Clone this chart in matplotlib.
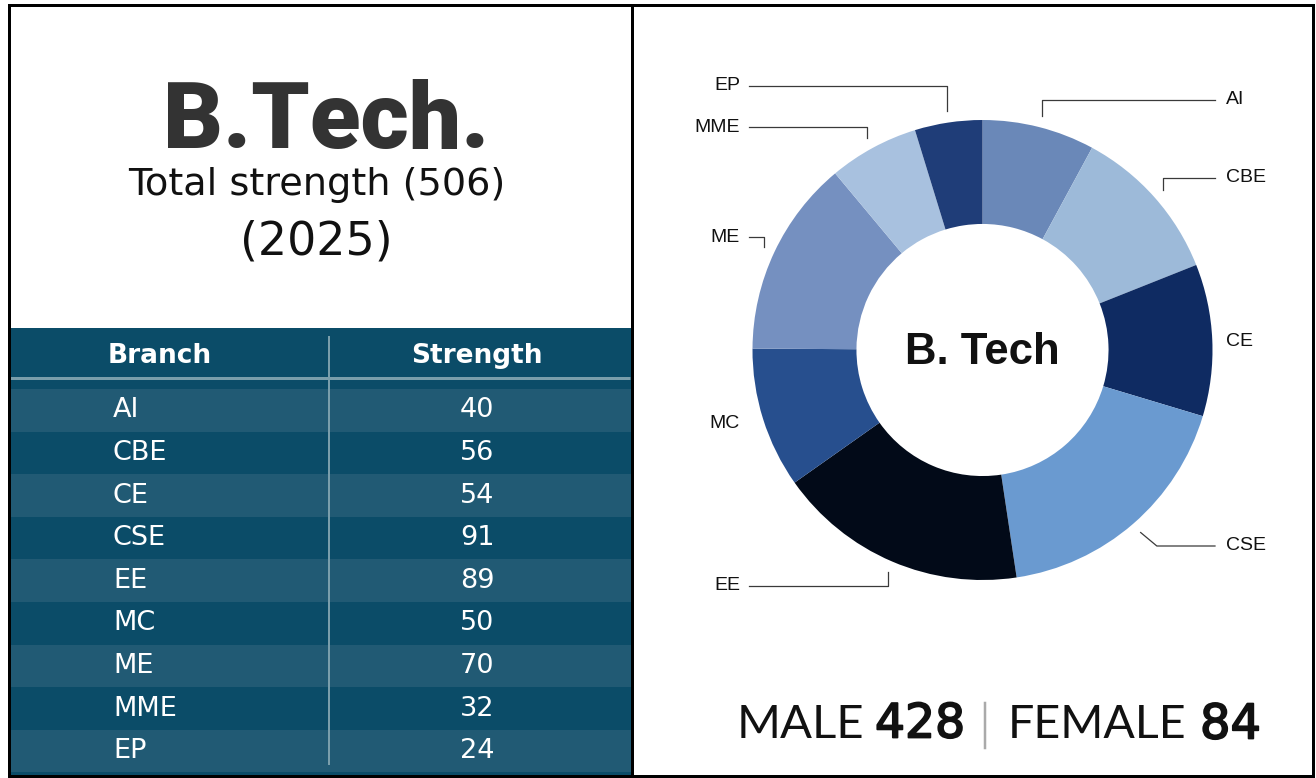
import numpy as np
import matplotlib
matplotlib.use("Agg")
import matplotlib.pyplot as plt
import matplotlib.patheffects as pe
from matplotlib.patches import Rectangle

# ---------------- data ----------------
branches = ["AI", "CBE", "CE", "CSE", "EE", "MC", "ME", "MME", "EP"]
strengths = [40, 56, 54, 91, 89, 50, 70, 32, 24]
year = 2025
male = 428
female = 84
title = "B.Tech."
center_label = "B. Tech"

# ---------------- style ----------------
slice_colors = ["#6a88b8", "#9dbad9", "#0f2b62", "#6a9ad0", "#020a18",
                "#274f8e", "#7590c0", "#a8c1df", "#1f3d78"]
dark_row = "#0b4c68"
light_row = "#215a74"
rule_col = "#7a9eab"

W, H = 1316, 778
fig = plt.figure(figsize=(W / 100, H / 100), dpi=100)
fig.patch.set_facecolor("white")
ov = fig.add_axes([0, 0, 1, 1])
ov.set_xlim(0, W)
ov.set_ylim(H, 0)
ov.axis("off")

def px(v):
    return v * 0.72  # pixels -> points

# ---------------- left panel: title ----------------
ov.text(326, 123, title, ha="center", va="center", fontsize=67,
        fontweight="heavy", family="Roboto", color="#333333")
total = sum(strengths)
ov.text(317, 185, f"Total strength ({total})", ha="center", va="center",
        fontsize=27.5, family="DejaVu Sans", color="#111111")
ov.text(316, 242, f"({year})", ha="center", va="center",
        fontsize=33, family="DejaVu Sans", color="#111111")

# ---------------- left panel: table ----------------
tx0, tx1 = 8, 631
ov.add_patch(Rectangle((tx0, 328), tx1 - tx0, 448, facecolor=dark_row,
                       edgecolor="none", zorder=1))
row_top, row_h = 389, 42.6
for i, (b, s) in enumerate(zip(branches, strengths)):
    y0 = row_top + i * row_h
    ov.add_patch(Rectangle((tx0, y0), tx1 - tx0, row_h,
                           facecolor=light_row if i % 2 == 0 else dark_row,
                           edgecolor="none", zorder=2))
    ov.text(113, y0 + row_h / 2, b, ha="left", va="center", fontsize=19.5,
            family="DejaVu Sans", color="white", zorder=4)
    ov.text(477, y0 + row_h / 2, str(s), ha="center", va="center",
            fontsize=19.5, family="DejaVu Sans", color="white", zorder=4)
ov.text(160, 356, "Branch", ha="center", va="center", fontsize=19,
        fontweight="bold", family="DejaVu Sans", color="white", zorder=4)
ov.text(477, 356, "Strength", ha="center", va="center", fontsize=19,
        fontweight="bold", family="DejaVu Sans", color="white", zorder=4)
ov.plot([tx0, tx1 - 1], [378, 378], color=rule_col, lw=px(3), zorder=3,
        solid_capstyle="butt")
ov.plot([329, 329], [336, 765], color=rule_col, lw=px(2), zorder=3,
        solid_capstyle="butt")

# ---------------- frame ----------------
ov.plot([8.5, 1312.5, 1312.5, 8.5, 8.5], [4.5, 4.5, 775.5, 775.5, 4.5],
        color="black", lw=px(3), zorder=6, solid_joinstyle="miter")
ov.plot([631.5, 631.5], [4.5, 775.5], color="black", lw=px(3), zorder=6)

# ---------------- donut ----------------
CX, CY, R = 982.5, 350, 230
ax = fig.add_axes([(CX - R) / W, (H - (CY + R)) / H, 2 * R / W, 2 * R / H])
wedges, _ = ax.pie(strengths, colors=slice_colors, startangle=90,
                   counterclock=False, radius=1,
                   wedgeprops=dict(width=0.452, edgecolor="none"))
ax.set_xlim(-1, 1)
ax.set_ylim(-1, 1)
ax.set_aspect("equal")
ax.axis("off")
ax.text(0, -0.01, center_label, ha="center", va="center", fontsize=31.5,
        fontweight="bold", family="Liberation Sans", color="#111111")

def to_data(x, y):
    return (x - CX) / R, (CY - y) / R

# label layout (pixel positions): x, y, side, leader kind
layout = {
    "AI": (1226, 100, "right", "elbow"),
    "CBE": (1226, 178, "right", "elbow"),
    "CE": (1226, 341, "right", None),
    "CSE": (1226, 546, "right", "diag"),
    "EE": (740, 586, "left", "elbow"),
    "MC": (740, 424, "left", None),
    "ME": (740, 237, "left", "elbow"),
    "MME": (740, 127, "left", "elbow"),
    "EP": (740, 86, "left", "elbow"),
}
line_kw = dict(color="#3a3a3a", lw=0.9, clip_on=False)
for w, name in zip(wedges, branches):
    lx, ly, side, kind = layout[name]
    mid = np.deg2rad((w.theta1 + w.theta2) / 2)
    sx, sy = 1.05 * np.cos(mid), 1.05 * np.sin(mid)
    tx, ty = to_data(lx, ly)
    ha = "left" if side == "right" else "right"
    ax.text(tx, ty, name, ha=ha, va="center", fontsize=14,
            family="Liberation Sans", color="#111111")
    if kind is None:
        continue
    end_x = to_data(1215, 0)[0] if side == "right" else to_data(749, 0)[0]
    if kind == "elbow":
        ax.plot([sx, sx, end_x], [sy, ty, ty], **line_kw)
    else:
        dx = abs(ty - sy) * 1.2
        ax.plot([sx, sx + dx, end_x], [sy, ty, ty], **line_kw)

# ---------------- gender split ----------------
thick = [pe.withStroke(linewidth=1.3, foreground="#111111")]
ov.text(737, 725, "MALE", ha="left", va="center", fontsize=34,
        family="Lato", color="#111111")
ov.text(875, 725, str(male), ha="left", va="center", fontsize=34,
        family="DejaVu Sans", color="#111111", path_effects=thick)
ov.plot([985, 985], [703, 748], color="#aaaaaa", lw=px(2.5))
ov.text(1008, 725, "FEMALE", ha="left", va="center", fontsize=33.5,
        family="Lato", color="#111111")
ov.text(1200, 725, str(female), ha="left", va="center", fontsize=34.5,
        family="DejaVu Sans", color="#111111", path_effects=thick)

fig.savefig("out.png", dpi=100, facecolor="white")
